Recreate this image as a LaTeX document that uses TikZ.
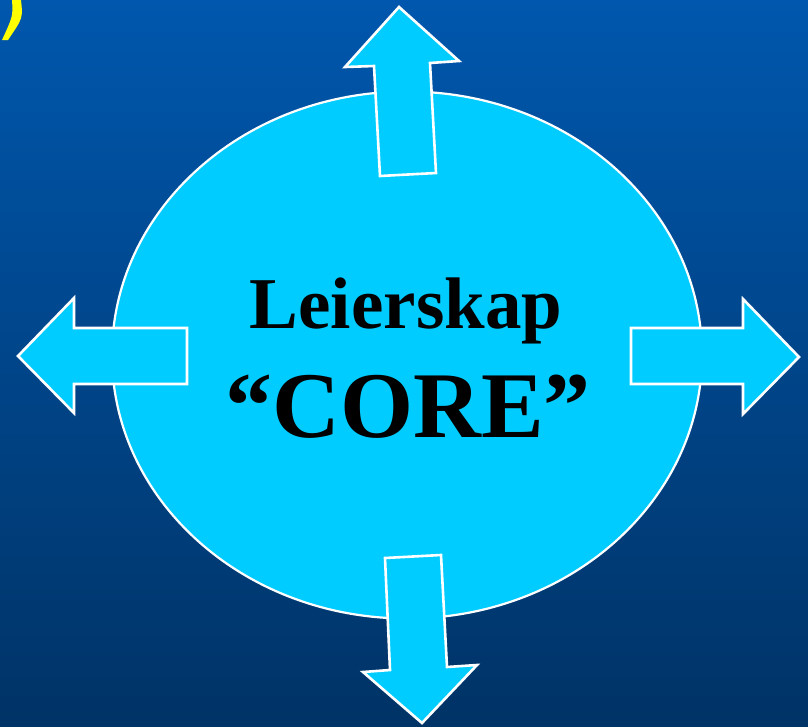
\documentclass[tikz,border=0pt]{standalone}
\usepackage{fontspec}
\setmainfont{Liberation Serif}
\usetikzlibrary{shapes.geometric}
\definecolor{bgtop}{HTML}{0057AD}
\definecolor{bgbot}{HTML}{003366}
\definecolor{corecyan}{HTML}{00CCFF}
\definecolor{paren}{HTML}{FFFF00}
\tikzset{
  blockarrow/.style={fill=corecyan, draw=white, line width=2.6pt, line join=miter},
  coreellipse/.style={fill=corecyan, draw=white, line width=2.2pt},
  bigtext/.style={text=black, inner sep=0pt, anchor=base}
}
\begin{document}
\begin{tikzpicture}[x=1pt,y=-1pt]
\useasboundingbox (0,0) rectangle (808,726);
\shade[top color=bgtop, bottom color=bgbot] (0,0) rectangle (808,726);
% yellow parenthesis fragment
\fill[paren] (12,0) .. controls (13,16) .. (2,40) -- (8,40) .. controls (23,18) .. (21,0) -- cycle;
% ellipse
\node[coreellipse, ellipse, minimum width=590, minimum height=527, inner sep=0pt] (core) at (407,355) {};
% arrows
\draw[blockarrow] (380,176) -- (374,66) -- (345,67) -- (399,7) -- (459,61) -- (430,63) -- (436,173) -- cycle;
\draw[blockarrow] (385,558) -- (390,670) -- (363,672) -- (422,723) -- (477,665) -- (447,667) -- (441,555) -- cycle;
\draw[blockarrow] (187,328) -- (74,328) -- (74,298) -- (18,356) -- (74,413) -- (74,384) -- (187,384) -- cycle;
\draw[blockarrow] (631,328) -- (743,328) -- (743,299) -- (799,357) -- (743,414) -- (743,384) -- (631,384) -- cycle;
% text
\node[bigtext, font=\fontsize{73}{80}\selectfont\bfseries] (lead) at (406,328) {Leierskap};
\node[bigtext, font=\fontsize{94}{100}\selectfont\bfseries] (corelabel) at (408,437) {“CORE”};
\end{tikzpicture}
\end{document}
